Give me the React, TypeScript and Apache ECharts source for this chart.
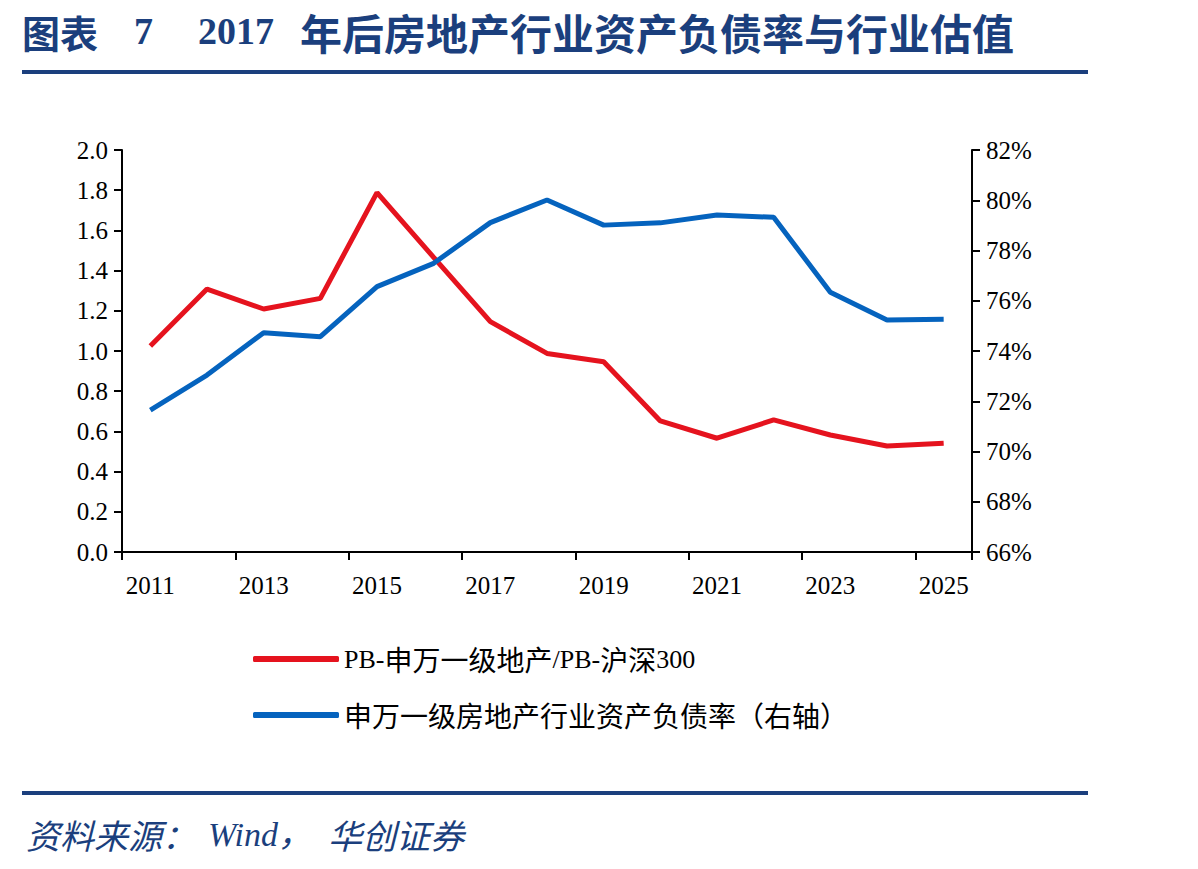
import React, { useEffect, useRef } from "react";
import * as echarts from "echarts";

const years = ["2011","2012","2013","2014","2015","2016","2017","2018","2019","2020","2021","2022","2023","2024","2025"];
const pbRatio = [1.025, 1.308, 1.209, 1.262, 1.788, 1.466, 1.146, 0.988, 0.947, 0.652, 0.566, 0.657, 0.582, 0.527, 0.541];
const debtRatio = [71.65, 73.04, 74.73, 74.57, 76.56, 77.49, 79.11, 80.01, 79.01, 79.1, 79.41, 79.32, 76.34, 75.23, 75.26];
const seriesNames = ["PB-申万一级地产/PB-沪深300", "申万一级房地产行业资产负债率（右轴）"];
const titleLabel = "图表";
const titleNum = "7";
const titleYear = "2017";
const titleRest = "年后房地产行业资产负债率与行业估值";
const sourceCn = "资料来源：";
const sourceWind = "Wind，";
const sourceOrg = "华创证券";

const BLUE_DARK = "#1B3F7D";
const SERIF = "'Liberation Serif', 'Noto Sans CJK SC', serif";
const CJK = "'Noto Sans CJK SC', serif";

// Split a legend label into Latin and CJK runs for rich text
function toRich(s: string): string {
  let out = "";
  let cur = "";
  let curType = "";
  for (const ch of s) {
    const t = /[\u0000-\u007f]/.test(ch) ? "l" : "c";
    if (t !== curType && cur) {
      out += `{${curType}|${cur}}`;
      cur = "";
    }
    curType = t;
    cur += ch;
  }
  if (cur) out += `{${curType}|${cur}}`;
  return out;
}

export default function App() {
  const ref = useRef<HTMLDivElement>(null);
  useEffect(() => {
    const chart = echarts.init(ref.current!, null, { renderer: "svg" });
    const axisLine = { show: true, lineStyle: { color: "#000", width: 2 } };
    const axisTick = { show: true, inside: false, length: 8, lineStyle: { color: "#000", width: 2 } };
    const titleText = (text: string, x: number, size: number, fam: string) => ({
      type: "text",
      style: { text, x, y: 31, verticalAlign: "middle", fill: BLUE_DARK, font: `bold ${size}px ${fam}` },
    });
    chart.setOption({
      animation: false,
      backgroundColor: "#fff",
      grid: { left: 122, right: 226, top: 150, bottom: 317, containLabel: false },
      xAxis: {
        type: "category",
        data: years,
        boundaryGap: true,
        axisLine,
        axisTick: { ...axisTick, interval: 1, alignWithLabel: false },
        axisLabel: { interval: 1, color: "#000", fontFamily: SERIF, fontSize: 25, margin: 21 },
        splitLine: { show: false },
      },
      yAxis: [
        {
          type: "value", min: 0, max: 2.0, interval: 0.2, position: "left",
          axisLine, axisTick,
          axisLabel: { color: "#000", fontFamily: SERIF, fontSize: 25, margin: 14, formatter: (v: number) => v.toFixed(1) },
          splitLine: { show: false },
        },
        {
          type: "value", min: 66, max: 82, interval: 2, position: "right",
          axisLine, axisTick,
          axisLabel: { color: "#000", fontFamily: SERIF, fontSize: 25, margin: 14, formatter: (v: number) => v + "%" },
          splitLine: { show: false },
        },
      ],
      legend: {
        orient: "vertical",
        left: 248,
        top: 640,
        itemWidth: 86,
        itemHeight: 6,
        itemGap: 28,
        icon: "roundRect",
        formatter: (name: string) => toRich(name),
        textStyle: {
          color: "#000",
          rich: {
            l: { fontFamily: SERIF, fontSize: 26, color: "#000" },
            c: { fontFamily: CJK, fontSize: 28, color: "#000" },
          },
        },
        data: seriesNames,
      },
      series: [
        {
          name: seriesNames[0], type: "line", data: pbRatio, yAxisIndex: 0,
          symbol: "none", lineStyle: { color: "#E5131E", width: 5 }, itemStyle: { color: "#E5131E" },
        },
        {
          name: seriesNames[1], type: "line", data: debtRatio, yAxisIndex: 1,
          symbol: "none", lineStyle: { color: "#0563BE", width: 5 }, itemStyle: { color: "#0563BE" },
        },
      ],
      graphic: [
        titleText(titleLabel, 22, 38, CJK),
        titleText(titleNum, 134, 38, SERIF),
        titleText(titleYear, 198, 38, SERIF),
        titleText(titleRest, 300, 42, CJK),
        { type: "rect", shape: { x: 22, y: 70, width: 1066, height: 4 }, style: { fill: BLUE_DARK } },
        { type: "rect", shape: { x: 22, y: 791, width: 1066, height: 4 }, style: { fill: BLUE_DARK } },
        { type: "text", style: { text: sourceCn, x: 26, y: 834, verticalAlign: "middle", fill: BLUE_DARK, font: "italic 34px " + CJK } },
        { type: "text", style: { text: sourceWind, x: 208, y: 834, verticalAlign: "middle", fill: BLUE_DARK, font: "italic 34px " + SERIF } },
        { type: "text", style: { text: sourceOrg, x: 328, y: 834, verticalAlign: "middle", fill: BLUE_DARK, font: "italic 34px " + CJK } },
      ],
    });
    return () => chart.dispose();
  }, []);
  return <div ref={ref} style={{ position: "absolute", left: 0, top: 0, width: 1198, height: 869 }} />;
}
